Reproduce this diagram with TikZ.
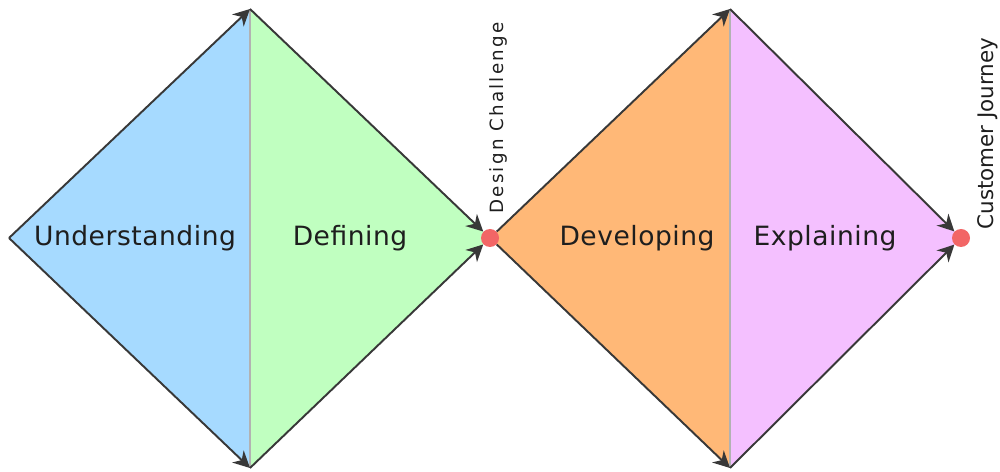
\documentclass[tikz,border=0pt]{standalone}
\usepackage{fontspec}
\setmainfont{DejaVu Sans}
\definecolor{undblue}{RGB}{166, 218, 255}
\definecolor{defgreen}{RGB}{192, 255, 192}
\definecolor{devorange}{RGB}{255, 184, 119}
\definecolor{exppink}{RGB}{244, 192, 255}
\definecolor{dotred}{RGB}{242, 102, 102}
\definecolor{edgegray}{RGB}{56, 56, 56}
\definecolor{divgray}{RGB}{178, 178, 178}
\definecolor{textgray}{RGB}{30, 30, 30}
\usetikzlibrary{arrows.meta, positioning, backgrounds}

\begin{document}
\begin{tikzpicture}[x=0.02cm, y=-0.02cm,
  edge/.style={draw=edgegray, line width=1.1pt, -{Stealth[length=9.5pt, width=9.5pt, inset=3pt]}},
  divider/.style={draw=divgray, line width=0.7pt},
  phase/.style={font=\fontsize{15.1}{18}\selectfont\addfontfeature{LetterSpace=2}, text=textgray},
  dot/.style={circle, fill=dotred, minimum size=0.36cm, inner sep=0pt}]
  \useasboundingbox (0,0) rectangle (1000,472);

  % Corners of both diamonds
  \coordinate (l1) at (9,238);
  \coordinate (t1) at (250,9);
  \coordinate (b1) at (250,468);
  \coordinate (t2) at (730,9);
  \coordinate (b2) at (730,468);
  \node[dot] (dc) at (490,238) {};
  \node[dot] (cj) at (961,238) {};

  % Filled halves
  \begin{scope}[on background layer]
    \fill[undblue] (l1) -- (t1) -- (b1) -- cycle;
    \fill[defgreen] (t1) -- (dc.center) -- (b1) -- cycle;
    \fill[devorange] (dc.center) -- (t2) -- (b2) -- cycle;
    \fill[exppink] (t2) -- (cj.center) -- (b2) -- cycle;
    \draw[divider] (t1) -- (b1);
    \draw[divider] (t2) -- (b2);
  \end{scope}

  % Diverging and converging edges
  \draw[edge] (l1) -- (t1);
  \draw[edge] (l1) -- (b1);
  \draw[edge] (t1) -- (dc);
  \draw[edge] (b1) -- (dc);
  \draw[edge] (dc) -- (t2);
  \draw[edge] (dc) -- (b2);
  \draw[edge] (t2) -- (cj);
  \draw[edge] (b2) -- (cj);

  % Phase labels
  \node[phase] (und) at (135,238) {Understanding};
  \node[phase] (def) at (350,238) {Defining};
  \node[phase] (dev) at (637,238) {Developing};
  \node[phase] (exp) at (825,238) {Explaining};

  % Milestones
  \node[rotate=90, inner sep=0pt, text=textgray, font=\fontsize{10.4}{12}\selectfont\addfontfeature{LetterSpace=12}] (dclabel) at (498,118) {Design Challenge};
  \node[rotate=90, inner sep=0pt, text=textgray, font=\fontsize{12.2}{15}\selectfont] (cjlabel) at (987.5,133.5) {Customer Journey};
\end{tikzpicture}
\end{document}
